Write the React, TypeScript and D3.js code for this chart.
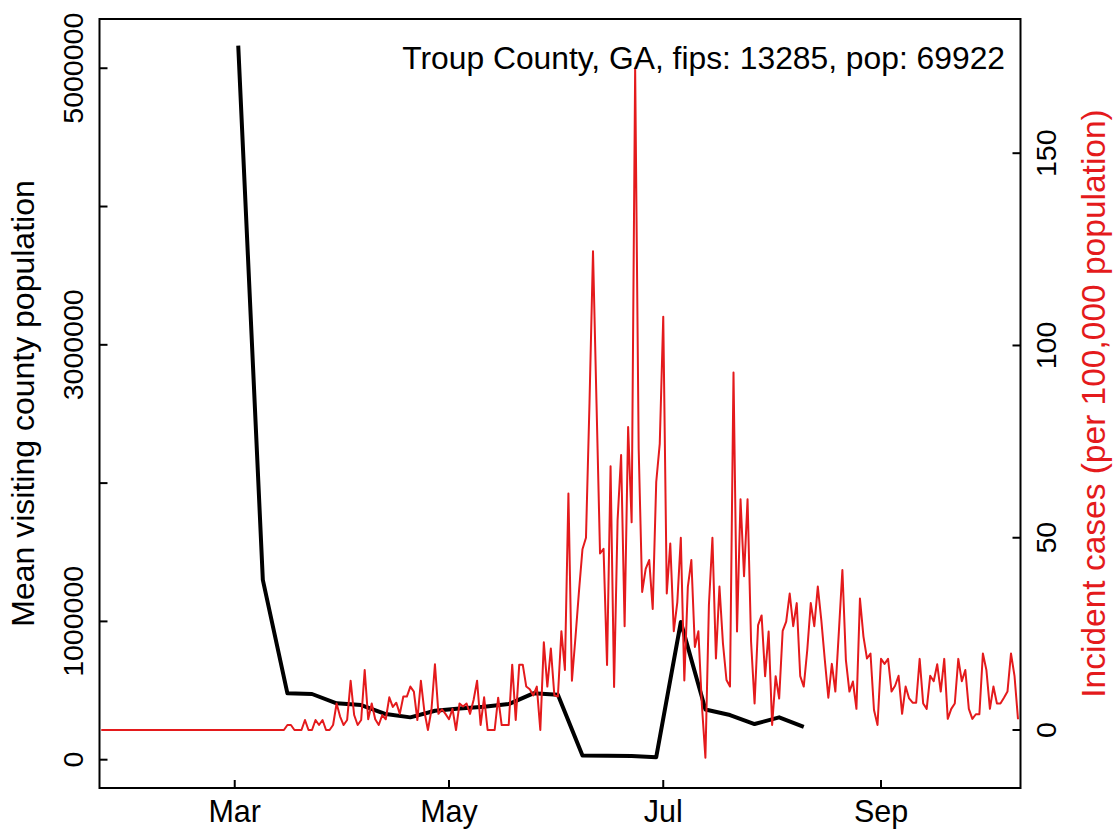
import * as React from 'react';
import * as d3 from 'd3';

// Daily incident cases (per 100,000), one value per day starting caseStart
const caseStart = '2020-01-23';
const caseValues = [
    0, 0, 0, 0, 0, 0, 0, 0, 0, 0, 0, 0, 0, 0, 0, 0, 0, 0, 0, 0,
    0, 0, 0, 0, 0, 0, 0, 0, 0, 0, 0, 0, 0, 0, 0, 0, 0, 0, 0, 0,
    0, 0, 0, 0, 0, 0, 0, 0, 0, 0, 0, 0, 0,
    1.3, 1.3, 0, 0, 0, 2.6, 0, 0, 2.6, 1.3, 2.6, 0, 0, 1.3, 6.9, 3.5, 1.3, 2.6, 12.8, 3.9,
    1.3, 2.6, 15.6, 2.8, 6.9, 2.8, 1.3, 3.9, 2.8, 8.5, 6.0, 7.1, 4.2, 8.7, 8.7, 11.3, 10.0, 2.6,
    12.8, 4.8, 0, 5.2, 17.1, 4.2, 5.4, 4.2, 2.8, 5.5, 0, 6.9, 6.1, 6.9, 4.2, 7.8, 12.8, 1.3,
    8.5, 0, 0, 0, 8.4, 1.3, 1.3, 1.3, 17.0, 2.6, 17.0, 17.0, 11.3, 10.6, 9.0, 11.3, 0, 22.8,
    11.3, 21.2, 9.0, 8.7, 25.7, 15.6, 61.5, 12.8, 24, 36, 47, 50, 85, 124.5, 85, 45.9,
    47.1, 16.9, 68.6, 11.2, 54.6, 71.5, 27, 78.8, 54, 172, 73.3, 35.9, 41.9, 44.2, 31.5, 64.5,
    74.4, 107.5, 35.5, 48.5, 25.7, 33.2, 50, 12.9, 37.2, 44.2, 21.6, 25.7, 6.5, -7.2, 32.5, 50,
    18.6, 37.3, 22.5, 13, 11.3, 93, 25.6, 60, 40, 60, 23, 6.9, 27.3, 29.8, 14, 25.6,
    1.3, 14, 8.2, 25.8, 28.2, 35.5, 27, 33, 14, 11.3, 20.8, 33, 27, 37.3, 28.6, 18.2,
    8.4, 17.2, 10, 25.6, 41.6, 18.2, 10, 12.6, 5.5, 34.2, 24.3, 18.6, 19.9, 5.2, 1.3, 18.5,
    17.2, 18.5, 10, 11.5, 14.1, 4.2, 11.3, 8.2, 7.1, 7.1, 18.5, 6.9, 5.5, 14.1, 12.7, 17.1,
    10, 18.5, 2.9, 5.5, 6.9, 18.5, 12.7, 15.6, 5.5, 2.9, 4.1, 4.1, 19.9, 15.6, 5.5, 11.3,
    6.9, 6.9, 8.4, 10, 19.9, 14.1, 2.8
];

// Weekly mean visiting county population
const visitWeeks = [
    '2020-03-02', '2020-03-09', '2020-03-16', '2020-03-23', '2020-03-30', '2020-04-06',
    '2020-04-13', '2020-04-20', '2020-04-27', '2020-05-04', '2020-05-11', '2020-05-18',
    '2020-05-25', '2020-06-01', '2020-06-08', '2020-06-15', '2020-06-22', '2020-06-29',
    '2020-07-06', '2020-07-13', '2020-07-20', '2020-07-27', '2020-08-03', '2020-08-10'
];
const visitValues = [
    5163000, 1300000, 480000, 475000, 408000, 395000,
    330000, 306000, 354000, 371000, 383000, 402000,
    480000, 470000, 30000, 28000, 26000, 18000,
    995000, 363000, 323000, 258000, 306000, 238000
];

const monthTicks = ['2020-03-01', '2020-05-01', '2020-07-01', '2020-09-01'];
const monthLabels = ['Mar', 'May', 'Jul', 'Sep'];
const leftTicks = [0, 1000000, 2000000, 3000000, 4000000, 5000000];
const leftLabels = ['0', '1000000', '', '3000000', '', '5000000'];
const rightTicks = [0, 50, 100, 150];

const titleText = 'Troup County, GA, fips: 13285, pop: 69922';
const leftTitle = 'Mean visiting county population';
const rightTitle = 'Incident cases (per 100,000 population)';

const RED = '#e41a1c';
const FONT = '"Liberation Sans", Arial, Helvetica, sans-serif';

const App = () => {
    const ref = React.useRef<SVGSVGElement>(null);

    React.useEffect(() => {
        const svg = d3.select(ref.current);
        svg.selectAll('*').remove();

        const left = 99.5, right = 1020.5, top = 19, bottom = 788;

        const x = d3.scaleUtc()
            .domain([Date.UTC(2020, 0, 22, 12), Date.UTC(2020, 9, 10, 17)])
            .range([left, right]);
        const yLeft = d3.scaleLinear().domain([-204700, 5356000]).range([bottom, top]);
        const yRight = d3.scaleLinear().domain([-15.08, 184.9]).range([bottom, top]);

        const parse = (s: string) => new Date(s + 'T00:00:00Z');
        const start = parse(caseStart);
        const cases = caseValues.map((v, i) => ({ date: d3.utcDay.offset(start, i), v }));
        const visits = visitWeeks.map((w, i) => ({ date: parse(w), v: visitValues[i] }));

        // black line (left axis)
        svg.append('path')
            .datum(visits)
            .attr('fill', 'none')
            .attr('stroke', '#000')
            .attr('stroke-width', 4)
            .attr('stroke-linejoin', 'round')
            .attr('d', d3.line<any>().x(d => x(d.date)).y(d => yLeft(d.v)));

        // red line (right axis)
        svg.append('path')
            .datum(cases)
            .attr('fill', 'none')
            .attr('stroke', RED)
            .attr('stroke-width', 2)
            .attr('stroke-linejoin', 'round')
            .attr('d', d3.line<any>().x(d => x(d.date)).y(d => yRight(d.v)));

        // frame
        svg.append('rect')
            .attr('x', left).attr('y', top)
            .attr('width', right - left).attr('height', bottom - top)
            .attr('fill', 'none').attr('stroke', '#000').attr('stroke-width', 2);

        const tick = 8;

        // bottom axis
        const gx = svg.append('g');
        monthTicks.forEach((m, i) => {
            const px = x(parse(m));
            gx.append('line')
                .attr('x1', px).attr('x2', px).attr('y1', bottom).attr('y2', bottom - tick)
                .attr('stroke', '#000').attr('stroke-width', 2);
            gx.append('text')
                .attr('x', px).attr('y', 822)
                .attr('text-anchor', 'middle')
                .attr('font-size', 30.5)
                .text(monthLabels[i]);
        });

        // left axis
        const gl = svg.append('g');
        leftTicks.forEach((t, i) => {
            const py = yLeft(t);
            gl.append('line')
                .attr('x1', left).attr('x2', left + tick).attr('y1', py).attr('y2', py)
                .attr('stroke', '#000').attr('stroke-width', 2);
            if (leftLabels[i]) {
                gl.append('text')
                    .attr('transform', `translate(83,${py}) rotate(-90)`)
                    .attr('text-anchor', 'middle')
                    .attr('font-size', 28.5)
                    .text(leftLabels[i]);
            }
        });

        // right axis
        const gr = svg.append('g');
        rightTicks.forEach(t => {
            const py = yRight(t);
            gr.append('line')
                .attr('x1', right).attr('x2', right - tick).attr('y1', py).attr('y2', py)
                .attr('stroke', '#000').attr('stroke-width', 2);
            gr.append('text')
                .attr('transform', `translate(1056,${py}) rotate(-90)`)
                .attr('text-anchor', 'middle')
                .attr('font-size', 28.5)
                .text(String(t));
        });

        const midY = (top + bottom) / 2;

        svg.append('text')
            .attr('transform', `translate(34,${midY}) rotate(-90)`)
            .attr('text-anchor', 'middle')
            .attr('font-size', 32)
            .text(leftTitle);

        svg.append('text')
            .attr('transform', `translate(1105,${midY}) rotate(-90)`)
            .attr('text-anchor', 'middle')
            .attr('font-size', 33.5)
            .attr('fill', RED)
            .text(rightTitle);

        svg.append('text')
            .attr('x', 1005).attr('y', 69)
            .attr('text-anchor', 'end')
            .attr('font-size', 31.8)
            .text(titleText);
    }, []);

    return (
        <svg ref={ref} width={1119} height={830}
            style={{ position: 'absolute', left: 0, top: 0, background: '#fff', fontFamily: FONT }} />
    );
};

export default App;
